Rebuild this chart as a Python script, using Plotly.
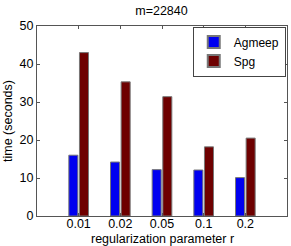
import plotly.graph_objects as go

categories = ["0.01", "0.02", "0.05", "0.1", "0.2"]
agmeep = [16.0, 14.2, 12.2, 12.1, 10.1]
spg = [43.0, 35.3, 31.4, 18.2, 20.5]
yticks = [0, 10, 20, 30, 40, 50]

FONT = "Liberation Sans, Arial, Helvetica, sans-serif"

fig = go.Figure()
fig.add_trace(go.Bar(name="Agmeep", x=categories, y=agmeep,
                     marker=dict(color="#0000f0", line=dict(color="#777777", width=1))))
fig.add_trace(go.Bar(name="Spg", x=categories, y=spg,
                     marker=dict(color="#6e0000", line=dict(color="#777777", width=1))))

fig.update_layout(
    width=291, height=246,
    margin=dict(l=37, r=4, t=26, b=30, autoexpand=False),
    paper_bgcolor="white", plot_bgcolor="white",
    barmode="group", bargap=0.49, bargroupgap=0.15,
    font=dict(family=FONT, color="black"),
    title=dict(text="m=22840", x=0.555, xanchor="center", y=0.955, yanchor="middle",
               font=dict(size=12.5, family=FONT)),
    showlegend=True,
    legend=dict(x=0.995, y=0.997, xanchor="right", yanchor="top",
                bgcolor="white", bordercolor="#444444", borderwidth=1,
                font=dict(size=12, family=FONT), tracegroupgap=0,
                itemwidth=30, traceorder="normal", itemsizing="constant"),
    xaxis=dict(type="category", range=[-1, 5], showline=True, linecolor="#555555",
               linewidth=1, mirror="allticks", ticks="inside", ticklen=3,
               tickcolor="#555555", tickfont=dict(size=12.5), showgrid=False,
               automargin=False, ticklabelstandoff=-4),
    yaxis=dict(range=[0, 50], tickvals=yticks, showline=True, linecolor="#555555",
               linewidth=1, mirror="allticks", ticks="inside", ticklen=3,
               tickcolor="#555555", tickfont=dict(size=12.5), showgrid=False, zeroline=False,
               automargin=False, ticklabelstandoff=0),
    annotations=[
        dict(text="regularization parameter r", xref="paper", yref="paper",
             x=0.5, y=0, yshift=-23, xanchor="center", yanchor="middle",
             showarrow=False, font=dict(size=12.5, family=FONT)),
        dict(text="time (seconds)", xref="paper", yref="paper",
             x=0, xshift=-29, y=0.5, xanchor="center", yanchor="middle",
             textangle=-90, showarrow=False, font=dict(size=12.5, family=FONT)),
    ],
)

fig.write_html("out.html", config={"displayModeBar": False},
               post_script="document.body.style.margin='0';document.body.style.padding='0';document.body.style.overflow='hidden';")
